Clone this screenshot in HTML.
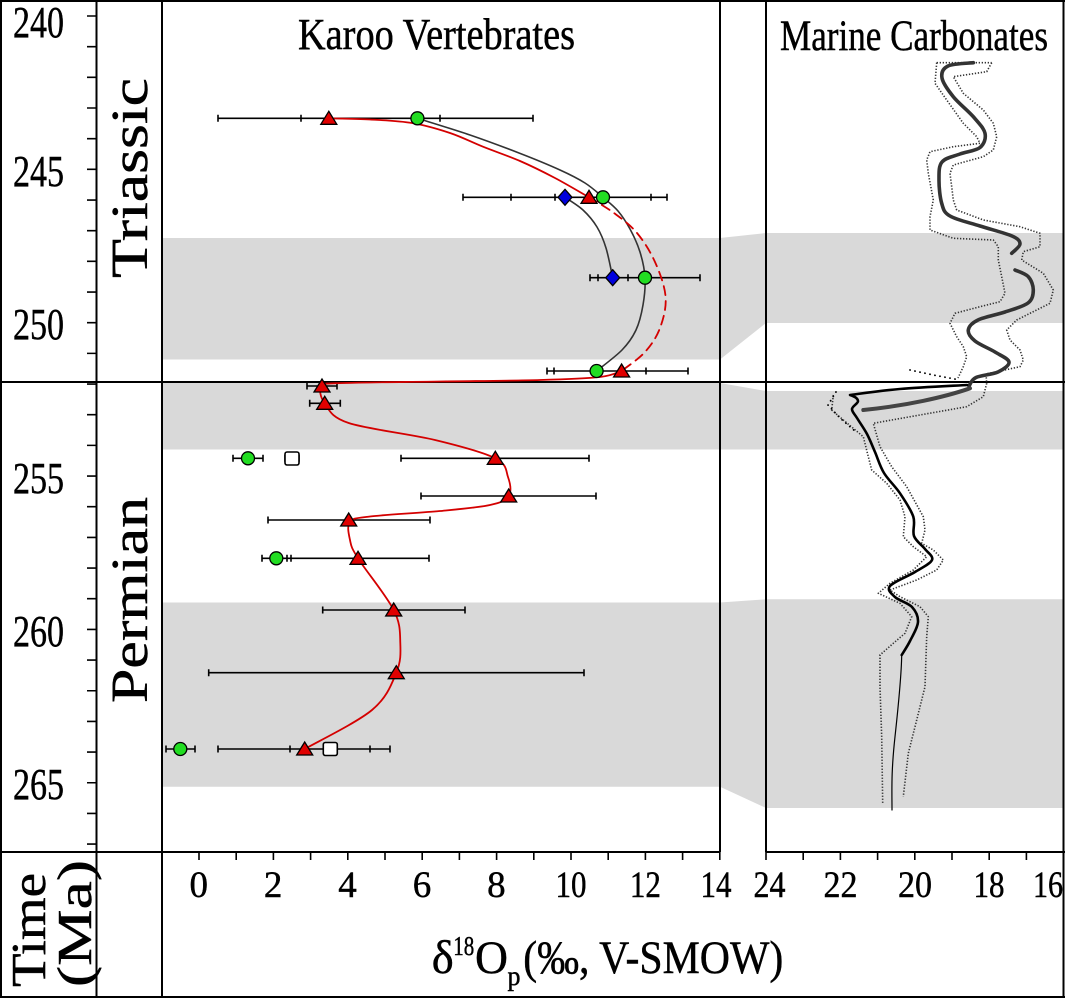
<!DOCTYPE html>
<html><head><meta charset="utf-8"><style>
html,body{margin:0;padding:0;background:#fff;overflow:hidden;}
svg{display:block;}
text{font-family:"Liberation Serif","Times New Roman",serif;fill:#000;stroke:#000;stroke-width:0.45;}
</style></head><body>
<svg width="1065" height="1000" viewBox="0 0 1065 1000" xmlns="http://www.w3.org/2000/svg">
<rect x="0" y="0" width="1065" height="1000" fill="#fff"/>
<!-- grey bands -->
<g fill="#d9d9d9">
<polygon points="162,238 720,238 766,233 1063,233 1063,323 766,323 720,359.5 162,359.5"/>
<polygon points="162,383 720,383 766,391 1063,391 1063,449.5 162,449.5"/>
<polygon points="162,602.5 720,602.5 766,599.3 1063,599.3 1063,808 766,808 720,786.7 162,786.7"/>
</g>
<!-- frame -->
<g stroke="#000" stroke-width="2" fill="none">
<line x1="0" y1="1" x2="1065" y2="1"/>
<line x1="1" y1="0" x2="1" y2="998"/>
<line x1="0" y1="997" x2="1065" y2="997"/>
<line x1="1063.5" y1="0" x2="1063.5" y2="998"/>
<line x1="96.5" y1="0" x2="96.5" y2="998"/>
<line x1="162" y1="0" x2="162" y2="998"/>
<line x1="720" y1="0" x2="720" y2="852"/>
<line x1="766" y1="0" x2="766" y2="852"/>
<line x1="0" y1="382" x2="1065" y2="382"/>
<line x1="0" y1="852" x2="720" y2="852"/>
<line x1="766" y1="852" x2="1065" y2="852"/>
</g>
<!-- ticks -->
<path stroke="#000" stroke-width="1.6" fill="none" d="
M87 16H96.5 M87 46.67H96.5 M87 77.34H96.5 M87 108.01H96.5 M87 138.68H96.5 M87 169.35H96.5 M87 200.02H96.5 M87 230.69H96.5 M87 261.36H96.5 M87 292.03H96.5 M87 322.7H96.5 M87 353.37H96.5 M87 384.04H96.5 M87 414.71H96.5 M87 445.38H96.5 M87 476.05H96.5 M87 506.72H96.5 M87 537.39H96.5 M87 568.06H96.5 M87 598.73H96.5 M87 629.4H96.5 M87 660.07H96.5 M87 690.74H96.5 M87 721.41H96.5 M87 752.08H96.5 M87 782.75H96.5 M87 813.42H96.5 M87 844.09H96.5
M199 852V860 M236.2 852V860 M273.4 852V860 M310.6 852V860 M347.8 852V860 M385 852V860 M422.2 852V860 M459.4 852V860 M496.6 852V860 M533.8 852V860 M571 852V860 M608.2 852V860 M645.4 852V860 M682.6 852V860 M719.8 852V860
M766 852V860 M803.2 852V860 M840.4 852V860 M877.6 852V860 M914.8 852V860 M952 852V860 M989.2 852V860 M1026.4 852V860"/>
<!-- y labels -->
<g font-size="44">
<text x="13" y="37" textLength="51" lengthAdjust="spacingAndGlyphs">240</text>
<text x="13" y="186" textLength="51" lengthAdjust="spacingAndGlyphs">245</text>
<text x="13" y="339" textLength="51" lengthAdjust="spacingAndGlyphs">250</text>
<text x="13" y="493" textLength="51" lengthAdjust="spacingAndGlyphs">255</text>
<text x="13" y="646" textLength="51" lengthAdjust="spacingAndGlyphs">260</text>
<text x="13" y="799" textLength="51" lengthAdjust="spacingAndGlyphs">265</text>
</g>
<!-- x labels -->
<g font-size="37">
<text x="189.5" y="897">0</text>
<text x="263.9" y="897">2</text>
<text x="338.3" y="897">4</text>
<text x="412.7" y="897">6</text>
<text x="487.1" y="897">8</text>
<text x="555.5" y="897" textLength="31" lengthAdjust="spacingAndGlyphs">10</text>
<text x="629.9" y="897" textLength="31" lengthAdjust="spacingAndGlyphs">12</text>
<text x="700.5" y="897" textLength="31" lengthAdjust="spacingAndGlyphs">14</text>
<text x="753.5" y="897" textLength="32" lengthAdjust="spacingAndGlyphs">24</text>
<text x="823.5" y="897" textLength="34" lengthAdjust="spacingAndGlyphs">22</text>
<text x="898" y="897" textLength="34" lengthAdjust="spacingAndGlyphs">20</text>
<text x="973.5" y="897" textLength="31" lengthAdjust="spacingAndGlyphs">18</text>
<text x="1033" y="897" textLength="30" lengthAdjust="spacingAndGlyphs">16</text>
</g>
<!-- titles -->
<text x="298" y="49" font-size="44" textLength="277" lengthAdjust="spacingAndGlyphs">Karoo Vertebrates</text>
<text x="780" y="50" font-size="43" textLength="268" lengthAdjust="spacingAndGlyphs">Marine Carbonates</text>
<!-- rotated labels -->
<text transform="translate(147,278) rotate(-90)" font-size="52" textLength="200" lengthAdjust="spacingAndGlyphs">Triassic</text>
<text transform="translate(147,703) rotate(-90)" font-size="52" textLength="206" lengthAdjust="spacingAndGlyphs">Permian</text>
<text transform="translate(45,987) rotate(-90)" font-size="49" textLength="114" lengthAdjust="spacingAndGlyphs">Time</text>
<text transform="translate(91,987) rotate(-90)" font-size="49" textLength="127" lengthAdjust="spacingAndGlyphs">(Ma)</text>
<!-- x axis title -->
<text x="431.7" y="973" font-size="47" textLength="22" lengthAdjust="spacingAndGlyphs">δ</text>
<text x="453.3" y="955" font-size="27" textLength="21" lengthAdjust="spacingAndGlyphs">18</text>
<text x="475" y="973" font-size="47" textLength="33" lengthAdjust="spacingAndGlyphs">O</text>
<text x="507.5" y="985" font-size="27" textLength="13" lengthAdjust="spacingAndGlyphs">p</text>
<text x="523.3" y="973" font-size="47" textLength="260" lengthAdjust="spacingAndGlyphs">(‰, V-SMOW)</text>

<!-- error bars -->
<g stroke="#000" stroke-width="1.6" fill="none">
<path d="M218 118.3H440 M218 114.8V121.8 M440 114.8V121.8 M301 118.3H533 M301 114.8V121.8 M533 114.8V121.8"/>
<path d="M463 197.3H667 M463 193.8V200.8 M667 193.8V200.8 M511 193.8V200.8 M555 193.8V200.8 M651 193.8V200.8"/>
<path d="M590 277.7H700 M590 274.2V281.2 M700 274.2V281.2 M598 274.2V281.2 M628 274.2V281.2"/>
<path d="M547 371H688 M547 367.5V374.5 M688 367.5V374.5 M554 367.5V374.5 M646 367.5V374.5"/>
<path d="M307 386H337 M307 382.5V389.5 M337 382.5V389.5"/>
<path d="M309.7 403.3H340.3 M309.7 399.8V406.8 M340.3 399.8V406.8"/>
<path d="M233 458.3H263 M233 454.8V461.8 M263 454.8V461.8 M285 454.8V461.8 M299 454.8V461.8 M401 458.3H589 M401 454.8V461.8 M589 454.8V461.8"/>
<path d="M421 496H596 M421 492.5V499.5 M596 492.5V499.5"/>
<path d="M268 520H430 M268 516.5V523.5 M430 516.5V523.5"/>
<path d="M262 558.3H429 M262 554.8V561.8 M291 554.8V561.8 M287 554.8V561.8 M429 554.8V561.8"/>
<path d="M322.7 610H465 M322.7 606.5V613.5 M465 606.5V613.5"/>
<path d="M208.7 672.7H584 M208.7 669.2V676.2 M584 669.2V676.2"/>
<path d="M166 749H195 M166 745.5V752.5 M195 745.5V752.5 M218 749H390 M218 745.5V752.5 M390 745.5V752.5 M290 745.5V752.5 M370 745.5V752.5"/>
</g>

<!-- curves left panel -->
<g fill="none" stroke-linejoin="round" stroke-linecap="round">
<path stroke="#333" stroke-width="1.6" d="M417.4 118.3 C426.2 121.1 453.1 129.2 470 135 C486.9 140.8 504 147.2 519 153 C534 158.8 549 165 560 170 C571 175 577.8 178.45 585 183 C592.2 187.55 597.5 192.6 603 197.3 C608.5 202 613.5 205.7 618 211 C622.5 216.3 626.3 222.2 630 229 C633.7 235.8 637.5 243.9 640 252 C642.5 260.1 644.5 268.9 645 277.7 C645.5 286.5 644.5 296.3 643 305 C641.5 313.7 639.5 322.5 636 330 C632.5 337.5 628.6 343.2 622 350 C615.4 356.8 600.8 367.5 596.6 371"/>
<path stroke="#333" stroke-width="1.6" d="M565 197.3 C568 199.4 577.7 205.05 583 210 C588.3 214.95 593.2 220.7 597 227 C600.8 233.3 603.4 239.55 606 248 C608.6 256.45 611.6 272.75 612.7 277.7"/>
<path stroke="#d40000" stroke-width="1.8" d="M328.8 118.3 C335.7 118.5 356.1 118.7 370 119.5 C383.9 120.3 398.7 120.75 412 123 C425.3 125.25 438.2 129.05 450 133 C461.8 136.95 471.3 142 483 146.7 C494.7 151.4 508 155.8 520 161 C532 166.2 543.5 171.95 555 178 C566.5 184.05 583.3 194.1 589 197.3"/>
<path stroke="#d40000" stroke-width="1.8" stroke-dasharray="9 6" d="M589 197.3 C593.2 199.9 606 207.05 614 213 C622 218.95 630.2 224.8 637 233 C643.8 241.2 650.2 251.3 655 262 C659.8 272.7 664.8 286 665.6 297 C666.4 308 663.4 318.8 660 328 C656.6 337.2 651.4 344.8 645 352 C638.6 359.2 625.5 367.8 621.6 371"/>
<path stroke="#d40000" stroke-width="1.8" d="M621.6 371 C618 372 613.6 375.5 600 377 C586.4 378.5 566.7 379.25 540 380 C513.3 380.75 472.5 381 440 381.5 C407.5 382 364.7 382.25 345 383 C325.3 383.75 325.4 382.6 322 386 C318.6 389.4 320.25 397.1 324.7 403.3 C329.15 409.5 330.3 416.9 348.7 423 C367.1 429.1 410.6 434.1 435 440 C459.4 445.9 483.1 452.1 495.3 458.3 C507.5 464.5 505.8 470.7 508 477 C510.2 483.3 511.7 491.3 508.7 496 C505.7 500.7 501.5 502.5 490 505 C478.6 507.5 460 509.1 440 511 C420 512.9 385 514.7 370 516.5 C355 518.3 353.3 518.1 350 522 C346.7 525.9 348.7 534 350 540 C351.3 546.05 350.7 546.6 358 558.3 C365.3 570 386.65 595.9 393.7 610 C400.75 624.1 399.9 632.55 400.3 643 C400.7 653.45 401 661.5 396.3 672.7 C391.6 683.9 387.3 697.3 372 710 C356.7 722.7 315.9 742.5 304.7 749"/>
</g>

<!-- markers -->
<g stroke="#000" stroke-width="1.3">
<g fill="#22dd22">
<circle cx="417.4" cy="118.3" r="6.5"/>
<circle cx="603" cy="197.3" r="6.5"/>
<circle cx="645" cy="277.7" r="6.5"/>
<circle cx="596.6" cy="371" r="6.5"/>
<circle cx="248" cy="458.3" r="6.5"/>
<circle cx="276.3" cy="558.3" r="6.5"/>
<circle cx="180.3" cy="749" r="6.5"/>
</g>
<g fill="#0000dd">
<polygon points="565,189.3 572,197.3 565,205.3 558,197.3"/>
<polygon points="612.7,269.7 619.7,277.7 612.7,285.7 605.7,277.7"/>
</g>
<g fill="#fff" stroke-width="1.6">
<rect x="285" y="452" width="14" height="13" rx="2"/>
<rect x="323.3" y="742.5" width="14" height="13" rx="2"/>
</g>
<g fill="#e00000">
<polygon points="328.8,111.3 320.8,124.3 336.8,124.3"/>
<polygon points="589,190.3 581,203.3 597,203.3"/>
<polygon points="621.6,364 613.6,377 629.6,377"/>
<polygon points="322,379 314,392 330,392"/>
<polygon points="324.7,396.3 316.7,409.3 332.7,409.3"/>
<polygon points="495.3,451.3 487.3,464.3 503.3,464.3"/>
<polygon points="508.7,489 500.7,502 516.7,502"/>
<polygon points="348.7,513 340.7,526 356.7,526"/>
<polygon points="358,551.3 350,564.3 366,564.3"/>
<polygon points="393.7,603 385.7,616 401.7,616"/>
<polygon points="396.3,665.7 388.3,678.7 404.3,678.7"/>
<polygon points="304.7,742 296.7,755 312.7,755"/>
</g>
</g>

<!-- right panel: envelopes -->
<g fill="none" stroke="#333" stroke-width="1.6" stroke-dasharray="1.3 1.7" stroke-linejoin="round">
<path d="M936.7 62.7 L991.7 62.7"/>
<path d="M936.7 62.7 L935 83.3 L946.7 100 L963.3 123.3 L976.7 136.7 L980 143.3 L953.3 146.7 L930 151.7 L926.7 160 L928.3 173.3 L933.3 200 L930 216.7 L930 230 L953.3 238.3 L993.3 240 L998.3 246.7 L998.3 260 L1001.7 276.7 L1005 293.3 L1000 301.7 L980 306.7 L955 313.3 L950 323.3 L956.7 336.7 L963.3 346.7 L966.7 356.7 L963.3 366.7 L958 378"/>
<path d="M991.7 62.7 L986.7 71.7 L953.3 76.7 L963.3 93.3 L983.3 110 L993.3 123.3 L996.7 136.7 L993.3 150 L983.3 156.7 L953.3 165 L950 173.3 L951.7 186.7 L953.3 200 L956.7 210 L983.3 220 L1020 226.7 L1040 233.3 L1040 246.7 L1023.3 251.7 L1021.7 260 L1043.3 273.3 L1053.3 290 L1050 303.3 L1016.7 320 L1006.7 330 L1010 340 L1020 350 L1023.3 360 L1020 366.7 L986 374 L986.7 383.3 L983.3 396.7 L966.7 406.7 L891.7 420 L873.3 423.3 L880 446.7 L891.7 466.7 L906.7 486.7 L923.3 516.7 L925 530 L921.7 543.3 L933.3 550 L943.3 560 L936.7 570 L916.7 580 L890 590 L900 596.7 L920 606.7 L928.3 616.7 L926.7 636.7 L925 686.7 L916.7 720 L908.3 753.3 L903.3 796.7"/>
<path d="M833.3 395 L831.7 410 L843.3 420 L863.3 436.7 L868.3 456.7 L871.7 470 L886.7 483.3 L900 500 L905 516.7 L903.3 536.7 L913.3 546.7 L926.7 556.7 L913.3 570 L890 583.3 L878.3 593.3 L900 603.3 L911.7 616.7 L905 633.3 L893.3 643.3 L880 655 L880 686.7 L881.7 736.7 L882.7 803.3"/>
</g>
<g fill="none" stroke="#000" stroke-width="1.8" stroke-dasharray="0.1 5" stroke-linecap="round">
<path d="M910 370 L933.3 375 L960 380"/>
<path d="M836 392 L828 405 L840 418 L856 432"/>
</g>
<!-- right panel: main curves -->
<g fill="none" stroke-linejoin="round" stroke-linecap="round">
<path stroke="#333" stroke-width="3.6" d="M973.3 62.7 C969.1 63.25 953.2 63.45 948 66 C942.8 68.55 941.1 72.9 942 78 C942.9 83.1 948.1 90.25 953.3 96.7 C958.5 103.15 968 110.6 973.3 116.7 C978.6 122.8 983.9 128.2 985 133.3 C986.1 138.4 984.2 144.05 980 147.5 C975.8 150.95 966.3 151.6 960 154 C953.7 156.4 945.5 157.7 942 162 C938.5 166.3 939.05 173.1 939 180 C938.95 186.9 939.9 197.3 941.7 203.3 C943.5 209.3 943.6 212.2 950 216 C956.4 219.8 969.7 222.7 980 226 C990.3 229.3 1005.3 233 1012 236 C1018.7 239 1020.05 241.1 1020 244 C1019.95 246.9 1013.1 251.75 1011.7 253.3"/>
<path stroke="#333" stroke-width="3.6" d="M1015 270 C1017.2 271.1 1025.25 273.37 1028.3 276.7 C1031.35 280.03 1033.35 285.62 1033.3 290 C1033.25 294.38 1032.72 299.33 1028 303 C1023.28 306.67 1013.33 309.17 1005 312 C996.67 314.83 984.12 317 978 320 C971.88 323 968.8 326.5 968.3 330 C967.8 333.5 970.55 337.33 975 341 C979.45 344.67 989.33 348.5 995 352 C1000.67 355.5 1008.5 358.67 1009 362 C1009.5 365.33 1003.5 369.42 998 372 C992.5 374.58 980.83 375.17 976 377.5 C971.17 379.83 970.17 384.58 969 386"/>
<path stroke="#444" stroke-width="4" d="M970 388.3 C945 397 905 406 863.3 410"/>
<path stroke="#000" stroke-width="2.6" d="M967 385 C955.8 385.67 919.5 387.33 900 389 C880.5 390.67 858 394 850 395 C856 397 857.67 398.67 858 401 C858.33 403.33 852.17 406.17 852 409 C851.83 411.83 854.5 413.83 857 418 C859.5 422.17 864 428.33 867 434 C870 439.67 872.17 445.5 875 452 C877.83 458.5 879.83 466.12 884 473 C888.17 479.88 895.12 486.02 900 493.3 C904.88 500.58 910.97 509.58 913.3 516.7 C915.63 523.82 912.05 530.62 914 536 C915.95 541.38 922 545 925 549 C928 553 933.67 556.17 932 560 C930.33 563.83 922 567.67 915 572 C908 576.33 893.33 581.83 890 586 C886.67 590.17 891.33 593.5 895 597 C898.67 600.5 908.17 602.83 912 607 C915.83 611.17 918.33 616.33 918 622 C917.67 627.67 912.72 635.5 910 641 C907.28 646.5 903.08 652.67 901.7 655"/>
<path stroke="#000" stroke-width="1.2" d="M901.7 655 C901.5 670 899 700 895 736.7 S892 790 892 810"/>
</g>
</svg>
</body></html>
